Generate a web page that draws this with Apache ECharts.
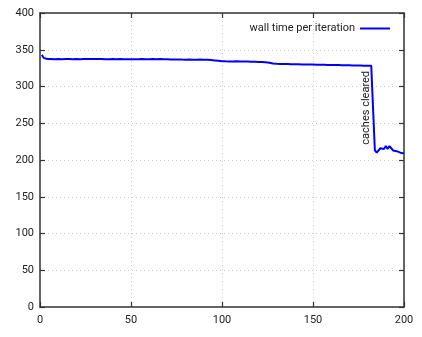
<!DOCTYPE html>
<html><head><meta charset="utf-8">
<script src="https://cdn.jsdelivr.net/npm/echarts@6/dist/echarts.min.js"></script>
<style>html,body{margin:0;padding:0;background:#fff}#c{width:422px;height:337px}</style>
</head><body><div id="c"></div>
<script>
var seriesName = 'wall time per iteration';
var annotationText = 'caches cleared';
var xTicks = [0, 50, 100, 150, 200];
var yTicks = [0, 50, 100, 150, 200, 250, 300, 350, 400];
var wallTime = [
343,339,337.6,337.4,337.3,337.4,337.3,337.2,337.4,337.3,
337.3,337.2,337.3,337.4,337.2,337.3,337.3,337.2,337.3,337.4,
337.3,337.2,337.3,337.3,337.4,337.3,337.5,337.3,337.2,337.4,
337.6,337.3,337.2,337.3,337.1,337.2,337.3,337.1,337.2,337.3,
337.2,337.1,337.2,337.3,337.2,337.1,337.2,337.2,337.3,337.2,
337.1,337.2,337.3,337.2,337.3,337.4,337.3,337.2,337.1,337.2,
337.2,337.3,337.4,337.2,337.1,337.3,337.2,337.0,336.9,337.1,
337.0,336.8,337.0,336.9,336.7,336.8,336.9,336.6,336.7,336.5,
336.6,336.7,336.5,336.4,336.6,336.5,336.4,336.6,336.5,336.3,
336.4,336.3,336.2,336.0,335.7,335.5,335.2,335.0,334.7,334.5,
334.3,334.2,334.3,334.1,334.2,334.0,334.1,334.2,334.0,334.1,
333.9,334.0,333.8,333.9,333.7,333.8,333.6,333.7,333.5,333.4,
333.3,333.2,333.1,332.9,332.6,332.2,331.8,331.4,331.0,330.8,
330.7,330.6,330.5,330.6,330.4,330.5,330.3,330.4,330.2,330.3,
330.1,330.2,330.0,330.1,329.9,330.0,329.8,329.9,329.7,329.8,
329.6,329.7,329.5,329.6,329.4,329.5,329.3,329.4,329.3,329.2,
329.1,329.2,329.0,329.1,328.9,329.0,328.8,328.9,328.7,328.8,
328.6,328.7,328.5,328.6,328.4,328.5,328.4,328.3,328.4,328.3,
328.3,328.4,270,213,210,211,216,218,215,219,
215,219,216,213,215,212,211,210,210,209
];
var data = wallTime.map(function(v, i){ return [i + 1, v]; });

var chart = echarts.init(document.getElementById('c'));
var frameColor = '#333';
var font = 'Roboto, "DejaVu Sans", sans-serif';
function xAxisDef(pos, labels){
  return {
    type: 'value', position: pos, min: 0, max: 200, interval: 50,
    axisLine: {show: true, onZero: false, lineStyle: {color: frameColor, width: 1.5}},
    axisTick: {show: true, inside: true, length: 5, lineStyle: {color: frameColor, width: 1.2}},
    axisLabel: {show: labels, color: '#222', fontSize: 11, fontFamily: font, margin: 8},
    splitLine: {show: labels, lineStyle: {color: '#cccccc', type: [1, 3], width: 1}}
  };
}
function yAxisDef(pos, labels){
  return {
    type: 'value', position: pos, min: 0, max: 400, interval: 50,
    axisLine: {show: true, onZero: false, lineStyle: {color: frameColor, width: 1.5}},
    axisTick: {show: true, inside: true, length: 5, lineStyle: {color: frameColor, width: 1.2}},
    axisLabel: {show: labels, color: '#222', fontSize: 11, fontFamily: font, margin: 6},
    splitLine: {show: labels, lineStyle: {color: '#cccccc', type: [1, 3], width: 1}}
  };
}
chart.setOption({
  animation: false,
  grid: {left: 40, right: 18, top: 13, bottom: 30, containLabel: false},
  legend: {
    show: true, right: 27, top: 18, align: 'right', itemWidth: 30, itemHeight: 10,
    textStyle: {fontSize: 11, fontFamily: font, color: '#222'},
    data: [{name: seriesName, icon: 'path://M0,4L30,4L30,6L0,6Z'}]
  },
  xAxis: [xAxisDef('bottom', true), xAxisDef('top', false)],
  yAxis: [yAxisDef('left', true), yAxisDef('right', false)],
  series: [{
    name: seriesName, type: 'line', data: data, showSymbol: false, symbol: 'none',
    lineStyle: {color: '#0000ff', width: 2}, itemStyle: {color: '#0000ff'},
    markPoint: {
      symbol: 'circle', symbolSize: 0,
      data: [{coord: [179.4, 271], value: annotationText}],
      label: {show: true, formatter: annotationText, rotate: 90, color: '#222',
        fontSize: 11, fontFamily: font, position: 'inside'}
    }
  }]
});
</script></body></html>
